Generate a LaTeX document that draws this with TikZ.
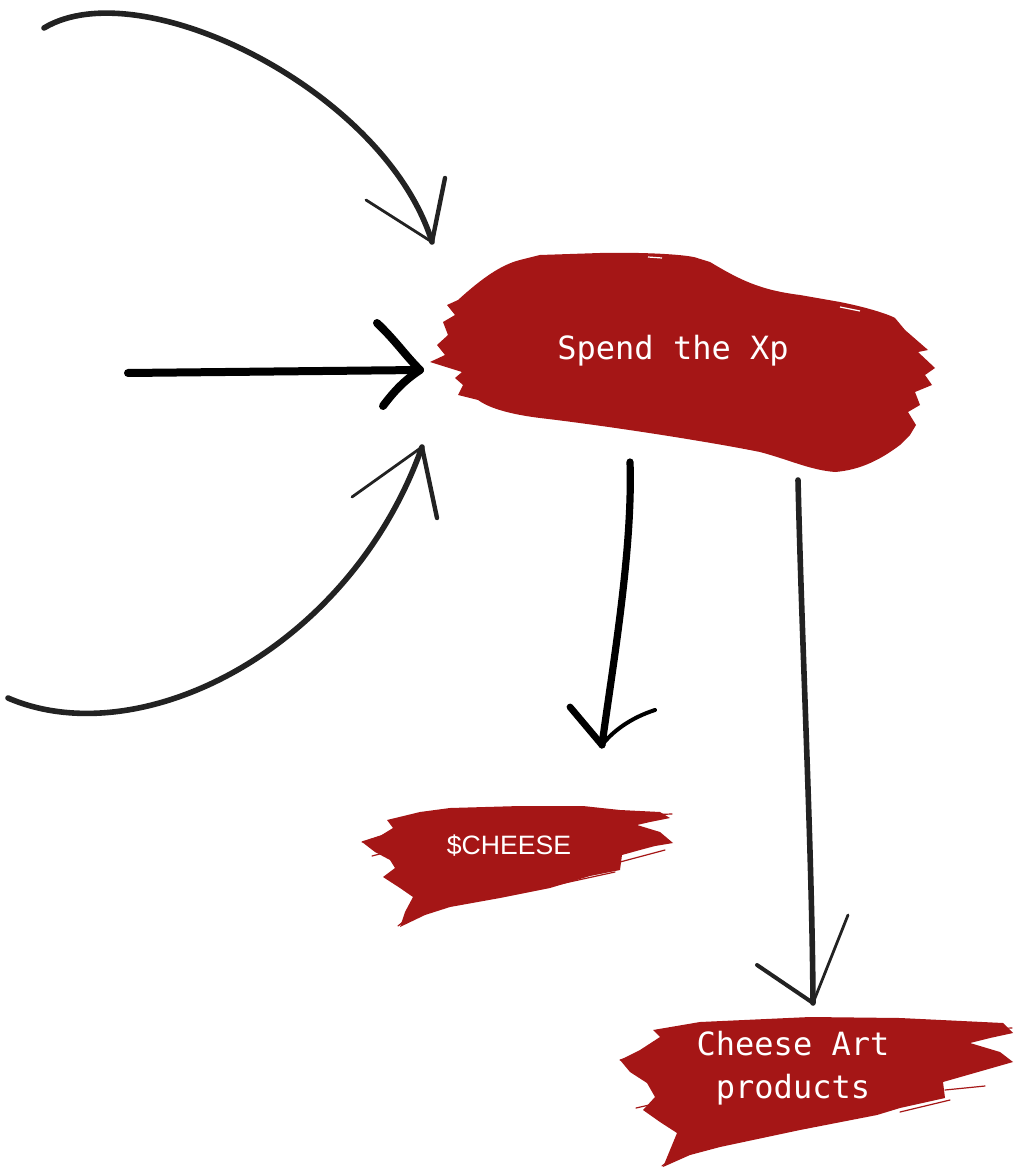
\documentclass[tikz,border=0pt]{standalone}
\usepackage{fontspec}
\usepackage{tikz}
\usetikzlibrary{positioning}
\newfontfamily\brushmono{DejaVu Sans Mono}
\newfontfamily\brushsans{Liberation Sans}
\definecolor{brushred}{HTML}{A51616}
\definecolor{inkgray}{HTML}{222222}

\begin{document}
\begin{tikzpicture}[x=0.5pt, y=-0.5pt,
  brush/.style={fill=brushred},
  streak/.style={draw=brushred, line width=0.6pt, line cap=round},
  label/.style={text=white, font=\brushmono\fontsize{16}{21.5}\selectfont, align=center, inner sep=0pt},
  inkline/.style={draw=inkgray, line width=2.8pt, line cap=round, line join=round},
  inkbarb/.style={draw=inkgray, line width=1.4pt, line cap=round},
  boldline/.style={draw=black, line width=4pt, line cap=round, line join=round},
]
\useasboundingbox (0,0) rectangle (1021,1170);

% brush strokes behind the labels
\fill[brush] (540,255) -- (600,253) .. controls (650,252) and (690,255) .. (697,258) -- (710,262)
  .. controls (740,280) and (760,290) .. (800,295) -- (840,302) .. controls (870,308) and (890,315) .. (895,318)
  -- (905,330) -- (928,350) -- (918,352) -- (935,368) -- (925,375) -- (932,385) -- (915,392) -- (920,405)
  -- (908,412) -- (916,425) -- (910,435) -- (900,445) .. controls (880,460) and (860,470) .. (835,472)
  .. controls (810,470) and (790,460) .. (760,452) .. controls (700,440) and (600,425) .. (540,418)
  .. controls (500,413) and (485,405) .. (478,400) -- (458,395) -- (463,385) -- (455,378) -- (462,372)
  -- (430,362) -- (445,355) -- (437,345) -- (448,335) -- (443,322) -- (455,315) -- (447,305) -- (458,300)
  .. controls (480,280) and (500,265) .. (520,260) -- cycle;
\draw[white, line width=0.6pt] (648,257) -- (662,258) (770,285) -- (786,288) (840,307) -- (860,311);
\fill[brush] (387,820) -- (420,812) -- (450,808) -- (520,806) -- (583,806) -- (620,810) -- (660,812)
  -- (670,818) -- (650,822) -- (637,825) -- (660,832) -- (673,843) -- (655,846) -- (640,850) -- (622,855)
  -- (620,870) -- (590,876) -- (550,888) -- (500,898) -- (450,907) -- (425,915) -- (400,927) -- (405,912)
  -- (413,897) -- (400,888) -- (383,877) -- (395,868) -- (390,860) -- (375,852) -- (362,842) -- (380,836)
  -- (393,828) -- cycle;
\draw[streak] (362,842) -- (330+60,833) (372,856) -- (395,850) (398,926) -- (430,900) (620,862) -- (665,850)
  (640,815) -- (672,814) (560,884) -- (615,872);
\fill[brush] (653,1030) -- (700,1022) -- (810,1017) -- (900,1018) -- (1003,1023) -- (1013,1033) -- (990,1038)
  -- (970,1043) -- (1000,1052) -- (1013,1062) -- (985,1070) -- (943,1082) -- (945,1098) -- (900,1108)
  -- (877,1115) -- (800,1130) -- (720,1147) -- (690,1155) -- (663,1167) -- (670,1150) -- (677,1133)
  -- (660,1122) -- (643,1110) -- (655,1097) -- (647,1083) -- (630,1072) -- (620,1060) -- (640,1050)
  -- (660,1037) -- cycle;
\draw[streak] (620,1060) -- (665,1048) (636,1108) -- (680,1098) (662,1166) -- (700,1138) (945,1090) -- (985,1086)
  (960,1030) -- (1012,1028) (900,1112) -- (950,1100);

% labels
\node[label] (spend) at (673,351) {Spend the Xp};
\node[label, font=\brushsans\fontsize{13.3}{16}\selectfont] (cheese) at (509,846) {\$CHEESE};
\node[label] (art) at (793,1068) {Cheese Art\\products};

% arrow ends
\coordinate (topfrom) at (44,28);
\coordinate (topto) at (432,242);
\coordinate (midfrom) at (128,373);
\coordinate (midto) at (420,370);
\coordinate (lowfrom) at (8,698);
\coordinate (lowto) at (422,447);
\coordinate (cheesefrom) at (630,462);
\coordinate (cheeseto) at (602,745);
\coordinate (artfrom) at (798,480);
\coordinate (artto) at (813,1003);

% arrows into the Xp
\draw[inkline] (topfrom) .. controls (140,-30) and (385,90) .. (topto);
\draw[inkbarb] (366,200) -- (topto);
\draw[inkline, line width=2.2pt] (445,178) -- (topto);
\draw[boldline] (midfrom) -- (midto);
\draw[boldline] (377,323) .. controls (395,340) and (405,355) .. (midto);
\draw[boldline] (383,406) .. controls (395,390) and (405,380) .. (midto);
\draw[inkline] (lowfrom) .. controls (140,755) and (350,650) .. (lowto);
\draw[inkbarb] (352,497) -- (lowto);
\draw[inkline, line width=2.2pt] (437,518) -- (lowto);

% arrows out of the Xp
\draw[boldline, line width=3.6pt] (cheesefrom) .. controls (633,550) and (612,670) .. (cheeseto);
\draw[boldline, line width=3.4pt] (570,707) -- (cheeseto);
\draw[boldline, line width=2pt] (655,710) .. controls (630,718) and (612,732) .. (cheeseto);
\draw[inkline] (artfrom) .. controls (802,650) and (812,850) .. (artto);
\draw[inkline, line width=2pt] (757,965) -- (artto);
\draw[inkbarb] (848,915) -- (artto);
\end{tikzpicture}
\end{document}
